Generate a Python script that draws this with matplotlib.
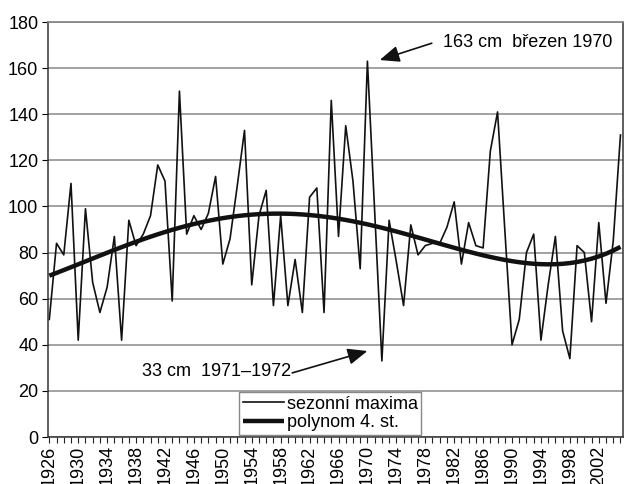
import matplotlib.pyplot as plt
import numpy as np

plt.rcParams['font.family'] = ['Liberation Sans', 'DejaVu Sans']
plt.rcParams['font.size'] = 13

# sezonní maxima (cm), 1926-2005
years = np.arange(1926, 2006)
maxima = [51, 84, 79, 110, 42, 99, 67, 54, 65, 87,
          42, 94, 83, 88, 96, 118, 111, 59, 150, 88,
          96, 90, 97, 113, 75, 86, 109, 133, 66, 96,
          107, 57, 96, 57, 77, 54, 104, 108, 54, 146,
          87, 135, 111, 73, 163, 98, 33, 94, 76, 57,
          92, 79, 83, 84, 84, 91, 102, 75, 93, 83,
          82, 124, 141, 90, 40, 51, 80, 88, 42, 66,
          87, 46, 34, 83, 80, 50, 93, 58, 85, 131]
tick_years = np.arange(1926, 2003, 4)

# polynom 4. stupne
coef = np.polyfit(years - 1965, maxima, 4)
trend = np.polyval(coef, years - 1965)

fig = plt.figure(figsize=(6.25, 4.84), dpi=100)
ax = fig.add_axes([48 / 625, 1 - 437 / 484, 575 / 625, 415 / 484])

ax.plot(years, maxima, color='#111111', lw=1.2, label='sezonní maxima')
ax.plot(years, trend, color='#111111', lw=3.2, label='polynom 4. st.',
        solid_capstyle='butt')

ax.set_xlim(1925.82, 2005.35)
ax.set_ylim(0, 180)
ax.set_yticks(range(0, 181, 20))
ax.set_xticks(tick_years)
ax.set_xticklabels([str(y) for y in tick_years], rotation=90)
ax.set_xticks(years, minor=True)
ax.tick_params(axis='x', which='both', direction='out', length=4, width=0.8,
               pad=2, colors='#222222', labelcolor='black')
ax.tick_params(axis='y', direction='out', length=4, width=0.8, pad=3)
ax.yaxis.grid(True, color='#888888', lw=1.1)
ax.set_axisbelow(True)

for s in ['left', 'bottom', 'right']:
    ax.spines[s].set_color('#333333')
    ax.spines[s].set_linewidth(1.1)
ax.spines['top'].set_color('#888888')
ax.spines['top'].set_linewidth(1.3)

# popisky
arrow = dict(arrowstyle='-|>,head_length=0.6,head_width=0.25',
             color='#111111', lw=1.2, mutation_scale=20, shrinkA=0, shrinkB=0)
ax.annotate('', xy=(1971.7, 163.5), xytext=(1978.9, 170.8), arrowprops=arrow)
ax.text(1980.5, 171.3, '163 cm  březen 1970', ha='left', va='center')
ax.annotate('', xy=(1970.0, 37.3), xytext=(1959.6, 27.8), arrowprops=arrow)
ax.text(1959.5, 28.2, '33 cm  1971–1972', ha='right', va='center')

leg = ax.legend(loc='lower left', bbox_to_anchor=(0.332, 0.005),
                borderaxespad=0, fancybox=False, framealpha=1,
                edgecolor='#888888', handlelength=2.3, handletextpad=0.15,
                labelspacing=0.1, borderpad=0.2, fontsize=13)
leg.get_frame().set_linewidth(1.0)

fig.savefig('out.png', dpi=100)
